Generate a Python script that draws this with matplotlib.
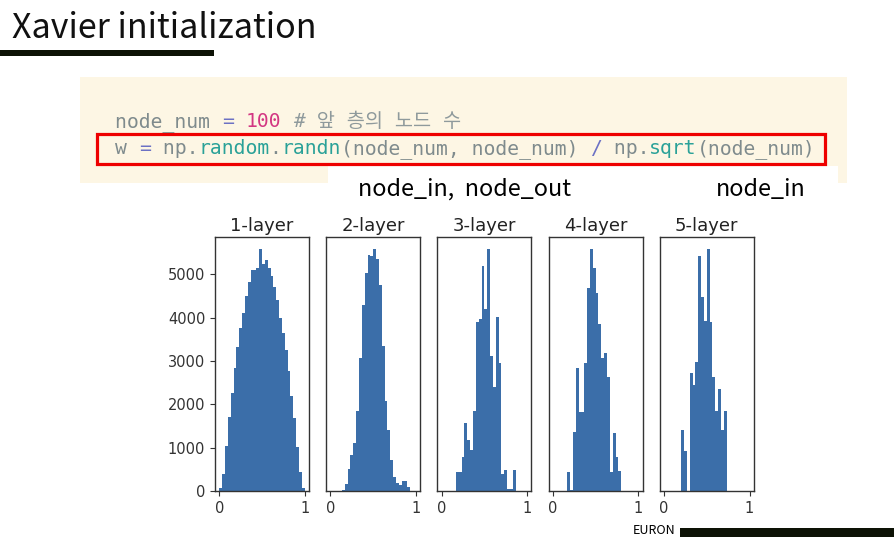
import numpy as np
import matplotlib
matplotlib.use("Agg")
import matplotlib.pyplot as plt
from matplotlib.patches import Rectangle

# histogram counts (30 bins over 0..1)
layer_names = ["1-layer", "2-layer", "3-layer", "4-layer", "5-layer"]
bin_edges = np.linspace(0, 1, 31)

counts_1 = [60, 390, 1030, 1710, 2250, 2840, 3320, 3750, 4100, 4490,
            4820, 5100, 5100, 5150, 5580, 5230, 5330, 5150, 4950, 4700,
            4400, 4000, 3650, 3250, 2760, 2200, 1680, 1020, 430, 60]
counts_2 = [0, 0, 0, 0, 50, 320, 960, 1600, 2140, 3530,
            5890, 8240, 9630, 10430, 10380, 10700, 10270, 9100, 6420, 3960,
            2680, 1390, 640, 370, 270, 430, 430, 160, 0, 0]
counts_3 = [0, 0, 0, 0, 0, 1020, 1010, 1780, 3560, 2670,
            2160, 4190, 8890, 9020, 11810, 9530, 12700, 7110, 5460, 9140,
            6730, 890, 1080, 90, 90, 1080, 0, 0, 0, 0]
counts_4 = [0, 0, 0, 0, 0, 950, 60, 2920, 6070, 3870,
            3870, 6310, 10000, 11900, 10950, 9760, 8210, 6550, 6780, 5590,
            950, 2860, 1670, 990, 0, 0, 0, 0, 0, 0]
counts_5 = [0, 0, 0, 0, 0, 0, 3180, 2110, 0, 6220,
            5590, 6790, 12320, 10160, 8950, 12700, 8890, 5970, 4190, 5330,
            3180, 4190, 0, 0, 0, 0, 0, 0, 0, 0]
all_counts = [counts_1, counts_2, counts_3, counts_4, counts_5]
y_ticks = [0, 1000, 2000, 3000, 4000, 5000]

# code lines as (text, colour) tokens
GRAY = "#7f8b8d"
VIOLET = "#6c71c4"
PINK = "#d33682"
TEAL = "#2aa198"
line1 = [("node_num ", GRAY), ("=", VIOLET), (" ", GRAY), ("100", PINK), (" ", GRAY)]
comment = "# 앞 층의 노드 수"
line2 = [("w ", GRAY), ("=", VIOLET), (" np.", GRAY), ("random", TEAL), (".", GRAY),
         ("randn", TEAL), ("(node_num, node_num) ", GRAY), ("/", VIOLET),
         (" np.", GRAY), ("sqrt", TEAL), ("(node_num)", GRAY)]

W, H = 895, 537
fig = plt.figure(figsize=(W / 100, H / 100), dpi=100)

# background axes in pixel coordinates
bg = fig.add_axes([0, 0, 1, 1])
bg.set_xlim(0, W)
bg.set_ylim(H, 0)
bg.axis("off")

#Title and underline
bg.text(12, 38, "Xavier initialization", fontsize=24.5, family="Noto Sans CJK KR",
        color="#111111", va="baseline")
bg.add_patch(Rectangle((0, 50), 214, 6, color="#0d1205", lw=0))

#Code box
bg.add_patch(Rectangle((80, 77), 767, 106, color="#fdf6e4", lw=0))
bg.add_patch(Rectangle((328, 166), 510, 20, color="white", lw=0))
bg.add_patch(Rectangle((97, 134), 728, 30, fill=False, edgecolor="#ee0000", lw=2.3))

fs = 14.2
cw = 0.60205 * fs * 100 / 72
x0 = 115
i = 0
for txt, col in line1:
    bg.text(x0 + i * cw, 127, txt, family="DejaVu Sans Mono", fontsize=fs, color=col, va="baseline")
    i += len(txt)
bg.text(x0 + i * cw, 127, comment, family=["DejaVu Sans Mono", "Noto Sans CJK KR"],
        style="italic", fontsize=fs, color="#8f9a9c", va="baseline")
i = 0
for txt, col in line2:
    bg.text(x0 + i * cw, 154, txt, family="DejaVu Sans Mono", fontsize=fs, color=col, va="baseline")
    i += len(txt)

bg.text(358, 196, "node_in,  node_out", fontsize=16.8, family="Noto Sans CJK KR", va="baseline")
bg.text(716, 196, "node_in", fontsize=16.8, family="Noto Sans CJK KR", va="baseline")

#Footer
bg.text(633, 537, "EURON", fontsize=9, family="Noto Sans CJK KR", va="bottom")
bg.add_patch(Rectangle((680, 528), 215, 9, color="#0d1205", lw=0))

#Histograms
centers = (bin_edges[:-1] + bin_edges[1:]) / 2
for k, (name, cnt) in enumerate(zip(layer_names, all_counts)):
    left = 215 + k * 111.2
    ax = fig.add_axes([left / W, 1 - 491 / H, 94 / W, 254 / H])
    ax.hist(centers, bins=bin_edges, weights=cnt, color="#3b6ea9")
    ax.set_title(name, fontsize=13, pad=4, color="#222222")
    ax.set_xticks([0, 1])
    ax.tick_params(labelsize=10.5, colors="#333333")
    if k == 0:
        ax.set_yticks(y_ticks)
    else:
        ax.set_yticks([])
    for s in ax.spines.values():
        s.set_color("#333333")
        s.set_linewidth(1.0)

fig.savefig("out.png", dpi=100)
